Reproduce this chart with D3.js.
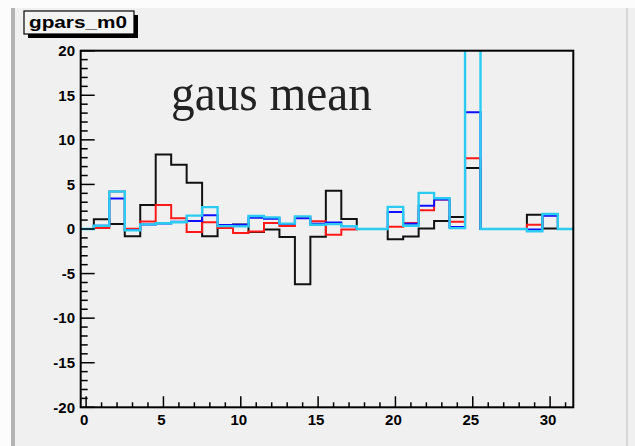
<!DOCTYPE html>
<html>
  <meta charset="utf-8">
  <style>
  body { margin: 0; background: #fcfcfc; }
  .lbl { font-family: "Liberation Sans", Arial, sans-serif; font-weight: bold; font-size: 15px; fill: #000; }
  </style>
  <head>
    <script src="https://d3js.org/d3.v7.min.js"></script>
  </head>
  <body>
    <script>
      // bin contents for bins 0..31
      var bins = d3.range(0, 32);
      var blackVals = [0, 1.1, 0.56, -0.8, 2.7, 8.35, 7.2, 5.2, -0.82, 0.37, 0.5, -0.35, -0.07, -0.9, -6.2, -0.88,
                       4.3, 1.12, 0, 0, -1.15, -0.85, 0.05, 0.9, 1.34, 6.83, 0, 0, 0, 1.6, 0.07, 0];
      var redVals = [0, 0.1, 4.2, 0.04, 0.84, 2.7, 1.2, -0.35, 0.75, 0.1, -0.45, -0.28, 0.67, 0.35, 1.3, 0.86,
                     -0.65, -0.07, 0, 0, 0.25, 0.67, 2.1, 3.3, 0.8, 7.95, 0, 0, 0, 0.49, 1.55, 0];
      var blueVals = [0, 0.37, 3.43, -0.12, 0.5, 0.62, 0.8, 0.9, 1.55, 0.45, 0.48, 1.25, 1.15, 0.55, 1.2, 0.6,
                      0.72, 0.3, 0, 0, 1.9, 0.6, 2.6, 3.3, 0.22, 13.1, 0, 0, 0, -0.07, 1.5, 0];
      var cyanVals = [0, 0.37, 4.2, -0.15, 0.52, 0.65, 0.75, 1.5, 2.45, 0.32, 0.3, 1.45, 1.3, 0.6, 1.42, 0.48,
                      0.55, 0.32, 0, 0, 2.48, 0.37, 4.05, 3.45, 0.1, 30, 0, 0, 0, -0.25, 1.68, 0];

      var xTicks = [0, 5, 10, 15, 20, 25, 30];
      var yTicks = [-20, -15, -10, -5, 0, 5, 10, 15, 20];
      var title = "gpars_m0";
      var note = "gaus mean";

      var width = 635,
          height = 446;

      var frame = {left: 80.7, right: 573.3, top: 50.7, bottom: 407.3};

      var x = d3.scaleLinear().domain([-0.35, 31.5]).range([frame.left, frame.right]);
      var y = d3.scaleLinear().domain([-20, 20]).range([frame.bottom, frame.top]);

      var svg = d3.select("body").append("svg")
          .attr("width", width)
          .attr("height", height);

      // canvas panel
      svg.append("rect").attr("x", 14).attr("y", 8).attr("width", width - 14).attr("height", height - 8)
          .attr("fill", "#f0f0f0");
      svg.append("rect").attr("x", 11).attr("y", 8).attr("width", 4).attr("height", height - 8)
          .attr("fill", "#b4b4b4");
      svg.append("line").attr("x1", 627).attr("x2", 627).attr("y1", 8).attr("y2", height)
          .attr("stroke", "#d6d6d6").attr("stroke-width", 2);

      svg.append("clipPath").attr("id", "clip")
        .append("rect")
          .attr("x", frame.left).attr("y", frame.top)
          .attr("width", frame.right - frame.left).attr("height", frame.bottom - frame.top);

      function stepPath(vals) {
        var p = d3.path();
        vals.forEach(function(v, i) {
          var lo = x(Math.max(bins[i] - 0.5, -0.35)),
              hi = x(bins[i] + 0.5);
          if (i === 0) p.moveTo(lo, y(v));
          else p.lineTo(lo, y(v));
          p.lineTo(hi, y(v));
        });
        return p.toString();
      }

      var series = [
        {vals: blackVals, color: "#111", w: 2},
        {vals: redVals, color: "#ff1a1a", w: 2},
        {vals: blueVals, color: "#1010ff", w: 2},
        {vals: cyanVals, color: "#2ccbf2", w: 2.4}
      ];

      var g = svg.append("g").attr("clip-path", "url(#clip)");
      g.selectAll("path")
          .data(series)
          .enter().append("path")
          .attr("d", function(d) { return stepPath(d.vals); })
          .attr("fill", "none")
          .attr("stroke", function(d) { return d.color; })
          .attr("stroke-width", function(d) { return d.w; });

      // frame
      svg.append("rect")
          .attr("x", frame.left).attr("y", frame.top)
          .attr("width", frame.right - frame.left).attr("height", frame.bottom - frame.top)
          .attr("fill", "none").attr("stroke", "#000").attr("stroke-width", 2);

      // y ticks (inside the frame)
      var yMinor = d3.range(-20, 21, 1);
      svg.append("g").selectAll("line")
          .data(yMinor)
          .enter().append("line")
          .attr("x1", frame.left)
          .attr("x2", function(d) { return frame.left + (d % 5 === 0 ? 14 : 7); })
          .attr("y1", function(d) { return y(d); })
          .attr("y2", function(d) { return y(d); })
          .attr("stroke", "#000").attr("stroke-width", 1.5);

      svg.append("g").selectAll("text")
          .data(yTicks)
          .enter().append("text")
          .attr("class", "lbl")
          .attr("x", 75)
          .attr("y", function(d) { return y(d); })
          .attr("dy", "0.35em")
          .attr("text-anchor", "end")
          .text(function(d) { return d; });

      // x ticks
      var xMinor = d3.range(0, 32, 1);
      svg.append("g").selectAll("line")
          .data(xMinor)
          .enter().append("line")
          .attr("x1", function(d) { return x(d); })
          .attr("x2", function(d) { return x(d); })
          .attr("y1", frame.bottom)
          .attr("y2", function(d) { return frame.bottom - (d % 5 === 0 ? 11 : 5); })
          .attr("stroke", "#000").attr("stroke-width", 1.5);

      svg.append("g").selectAll("text")
          .data(xTicks)
          .enter().append("text")
          .attr("class", "lbl")
          .attr("x", function(d) { return x(d) - 2; })
          .attr("y", 425)
          .attr("text-anchor", "middle")
          .text(function(d) { return d; });

      // title box with shadow
      svg.append("rect").attr("x", 28).attr("y", 15).attr("width", 110).attr("height", 23).attr("fill", "#000");
      svg.append("rect").attr("x", 24).attr("y", 11).attr("width", 110).attr("height", 23)
          .attr("fill", "#f4f4f4").attr("stroke", "#000").attr("stroke-width", 1.2);
      svg.append("text")
          .attr("class", "lbl")
          .attr("x", 29).attr("y", 28)
          .style("font-size", "17px")
          .attr("textLength", 98)
          .attr("lengthAdjust", "spacingAndGlyphs")
          .text(title);

      svg.append("text")
          .attr("x", 171).attr("y", 110)
          .style("font-family", "'Liberation Serif', 'Times New Roman', serif")
          .style("font-size", "50px")
          .attr("fill", "#222")
          .attr("textLength", 201)
          .attr("lengthAdjust", "spacingAndGlyphs")
          .text(note);
    </script>
  </body>
</html>
